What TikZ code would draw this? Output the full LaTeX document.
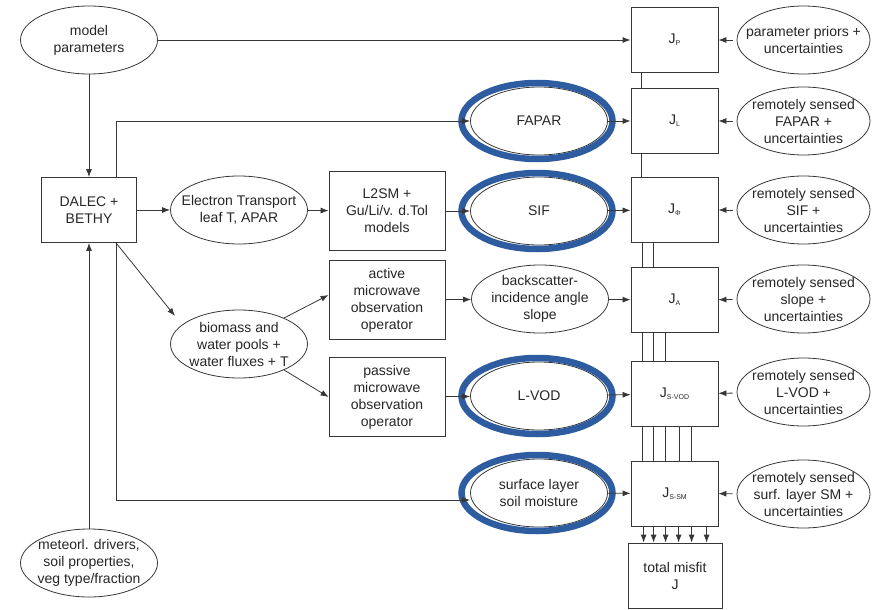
\documentclass[tikz,border=0pt]{standalone}
\usepackage{fontspec}
\setmainfont{Liberation Sans}
\usetikzlibrary{shapes.geometric, arrows.meta, positioning}
\definecolor{ringblue}{RGB}{46,92,160}
\definecolor{linec}{RGB}{55,55,55}
\newcommand{\Jsub}[1]{J\raisebox{-2pt}{\fontsize{7}{7}\selectfont #1}}

\begin{document}
\begin{tikzpicture}[x=1pt, y=-1pt, font=\fontsize{14}{17}\selectfont, text=black!85, line width=0.8pt,
	box/.style={rectangle, draw=linec, align=center, inner sep=0pt, minimum width=116, minimum height=79},
	jbox/.style={box, minimum width=87, minimum height=65},
	ell/.style={ellipse, draw=linec, align=center, inner sep=0pt, minimum width=137, minimum height=68},
	rell/.style={ell, minimum width=133},
	ring/.style={draw=ringblue, line width=6.5pt},
	arr/.style={draw=linec, -{Latex[length=8pt,width=6pt]}}]
\useasboundingbox (0,0) rectangle (879,610);

% model side
\node[ell, label={[align=center]center:{model\\parameters}}] (model) at (89,40) {};
\node[box, minimum width=95, minimum height=65] (dalec) at (89,210) {DALEC +\\BETHY};
\node[ell, label={[align=center]center:{meteorl. drivers,\\soil properties,\\veg type/fraction}}] (meteo) at (89,563) {};
\node[ell, label={[align=center]center:{Electron Transport\\leaf T, APAR}}] (elec) at (239,210) {};
\node[ell, label={[align=center]center:{biomass and\\water pools +\\water fluxes + T}}] (bio) at (239,344) {};
\node[box] (l2sm) at (387,211) {L2SM +\\Gu/Li/v. d.Tol\\models};
\node[box] (active) at (387,300) {active\\microwave\\observation\\operator};
\node[box] (passive) at (387,397) {passive\\microwave\\observation\\operator};

% observables
\node[ell] (fapar) at (539,121) {FAPAR};
\node[ell] (sif) at (539,211) {SIF};
\node[ell, label={[align=center]center:{backscatter-\\incidence angle\\slope}}] (bscat) at (540,299) {};
\node[ell] (lvod) at (539,396) {L-VOD};
\node[ell] (ssm) at (539,493) {surface layer\\soil moisture};
\foreach \n in {fapar,sif,lvod,ssm}
	\draw[ring] ([xshift=-2pt]\n.center) ellipse (75.5 and 38);

% cost terms
\node[jbox] (jp) at (674.5,40) {\Jsub{P}};
\node[jbox] (jl) at (674.5,121) {\Jsub{L}};
\node[jbox] (jphi) at (674.5,210) {\Jsub{Φ}};
\node[jbox] (ja) at (674.5,300) {\Jsub{A}};
\node[jbox] (jsvod) at (674.5,394) {\Jsub{S-VOD}};
\node[jbox] (jssm) at (674.5,493.5) {\Jsub{S-SM}};
\node[box, minimum width=94, minimum height=65] (total) at (675,575.5) {total misfit\\J};

% data
\node[rell, label={[align=center]center:{parameter priors +\\uncertainties}}] (prior) at (803.5,40) {};
\node[rell, label={[align=center]center:{remotely sensed\\FAPAR +\\uncertainties}}] (rfapar) at (803.5,121) {};
\node[rell, label={[align=center]center:{remotely sensed\\SIF +\\uncertainties}}] (rsif) at (803.5,210) {};
\node[rell, label={[align=center]center:{remotely sensed\\slope +\\uncertainties}}] (rslope) at (803.5,299) {};
\node[rell, label={[align=center]center:{remotely sensed\\L-VOD +\\uncertainties}}] (rlvod) at (803.5,392) {};
\node[rell, label={[align=center]center:{remotely sensed\\surf. layer SM +\\uncertainties}}] (rssm) at (803.5,494) {};

\draw[arr] (model) -- (dalec);
\draw[arr] (meteo) -- (dalec);
\draw[arr] (model) -- (jp);
\draw[arr] (dalec) -- (elec);
\draw[arr] (elec) -- (l2sm);
\draw[arr] (l2sm) -- (sif);
\draw[arr] ([xshift=27pt]dalec.north) |- (fapar);
\draw[arr] ([xshift=27pt]dalec.south) |- ([yshift=-7pt]ssm.west);
\draw[arr] ([xshift=27pt]dalec.south) -- ([shift={(-64,-28)}]bio.center);
\draw[arr] (bio.30) -- ([yshift=5pt]active.west);
\draw[arr] (bio.-30) -- (passive.west);
\draw[arr] (active) -- (bscat);
\draw[arr] (passive) -- (lvod);
\foreach \o/\j in {fapar/jl, sif/jphi, bscat/ja, lvod/jsvod, ssm/jssm}
	\draw[arr] (\o) -- (\j);
\foreach \r/\j in {prior/jp, rfapar/jl, rsif/jphi, rslope/ja, rlvod/jsvod, rssm/jssm}
	\draw[arr, shorten <=4pt] (\r) -- (\j);

% summing lines
\draw[linec] ([xshift=11pt]jp.south west) -- ([xshift=11pt]jl.north west);
\draw[linec] ([xshift=11pt]jl.south west) -- ([xshift=11pt]jphi.north west);
\foreach \x in {12,23}
	\draw[linec] ([xshift=\x pt]jphi.south west) -- ([xshift=\x pt]ja.north west);
\foreach \x in {12,23,35}
	\draw[linec] ([xshift=\x pt]ja.south west) -- ([xshift=\x pt]jsvod.north west);
\foreach \x in {12,23,35,49,61}
	\draw[linec] ([xshift=\x pt]jsvod.south west) -- ([xshift=\x pt]jssm.north west);
\coordinate (tt) at (jssm.south west |- total.north);
\foreach \x in {13,23,35,48,61,76}
	\draw[arr] ([xshift=\x pt]jssm.south west) -- ([xshift=\x pt]tt);
\end{tikzpicture}
\end{document}
